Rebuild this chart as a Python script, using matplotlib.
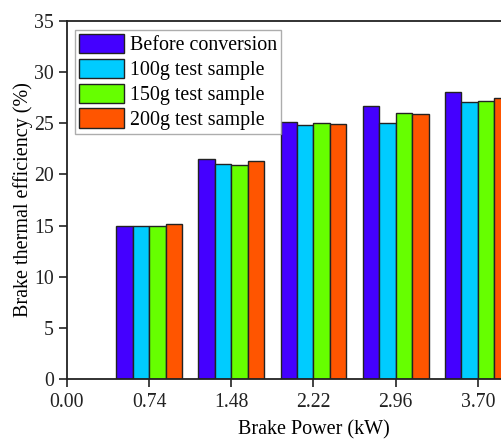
import matplotlib
matplotlib.use("Agg")
import matplotlib.pyplot as plt
import numpy as np

power = [0.74, 1.48, 2.22, 2.96, 3.70]
tick_labels = ["0.00", "0.74", "1.48", "2.22", "2.96", "3.70"]
series_names = ["Before conversion", "100g test sample", "150g test sample", "200g test sample"]
before = [15.0, 21.55, 25.15, 26.7, 28.1]
s100 = [14.95, 21.0, 24.8, 25.05, 27.1]
s150 = [15.0, 20.95, 25.0, 26.05, 27.2]
s200 = [15.2, 21.3, 24.95, 25.95, 27.5]
colors = ["#4400FF", "#00CCFF", "#66FF00", "#FF5500"]

plt.rcParams['font.family'] = ['Liberation Serif', 'DejaVu Serif']
fig = plt.figure(figsize=(5.02, 4.41), dpi=100)
ax = fig.add_axes([67/502, 62/441, 493/502, 358/441])

width = 0.148
x = np.array(power)
for i, (vals, name, c) in enumerate(zip([before, s100, s150, s200], series_names, colors)):
    ax.bar(x + (i - 1.5) * width, vals, width=width, color=c, edgecolor="#222222",
           linewidth=1.0, label=name)

ax.set_xlim(0, 4.44)
ax.set_ylim(0, 35)
ax.set_xticks([0.0] + power)
ax.set_xticklabels(tick_labels)
ax.set_yticks(np.arange(0, 36, 5))
ax.tick_params(axis='both', direction='out', length=6, width=1.2, labelsize=14.2, colors='#222222')
ax.tick_params(axis='x', pad=4)
for sp in ax.spines.values():
    sp.set_linewidth(1.3)
    sp.set_color('#222222')

ax.set_xlabel("Brake Power (kW)", fontsize=14.5, labelpad=6)
ax.set_ylabel("Brake thermal efficiency (%)", fontsize=14.5, labelpad=1)

leg = ax.legend(loc='upper left', bbox_to_anchor=(8/493, 1 - 9/358), fontsize=14.4, frameon=True,
                fancybox=False, edgecolor='#999999', handlelength=2.25, handleheight=1.1,
                handletextpad=0.3, labelspacing=0.17, borderpad=0.2, borderaxespad=0.0)
leg.get_frame().set_linewidth(1.0)

fig.savefig("out.png", dpi=100)
